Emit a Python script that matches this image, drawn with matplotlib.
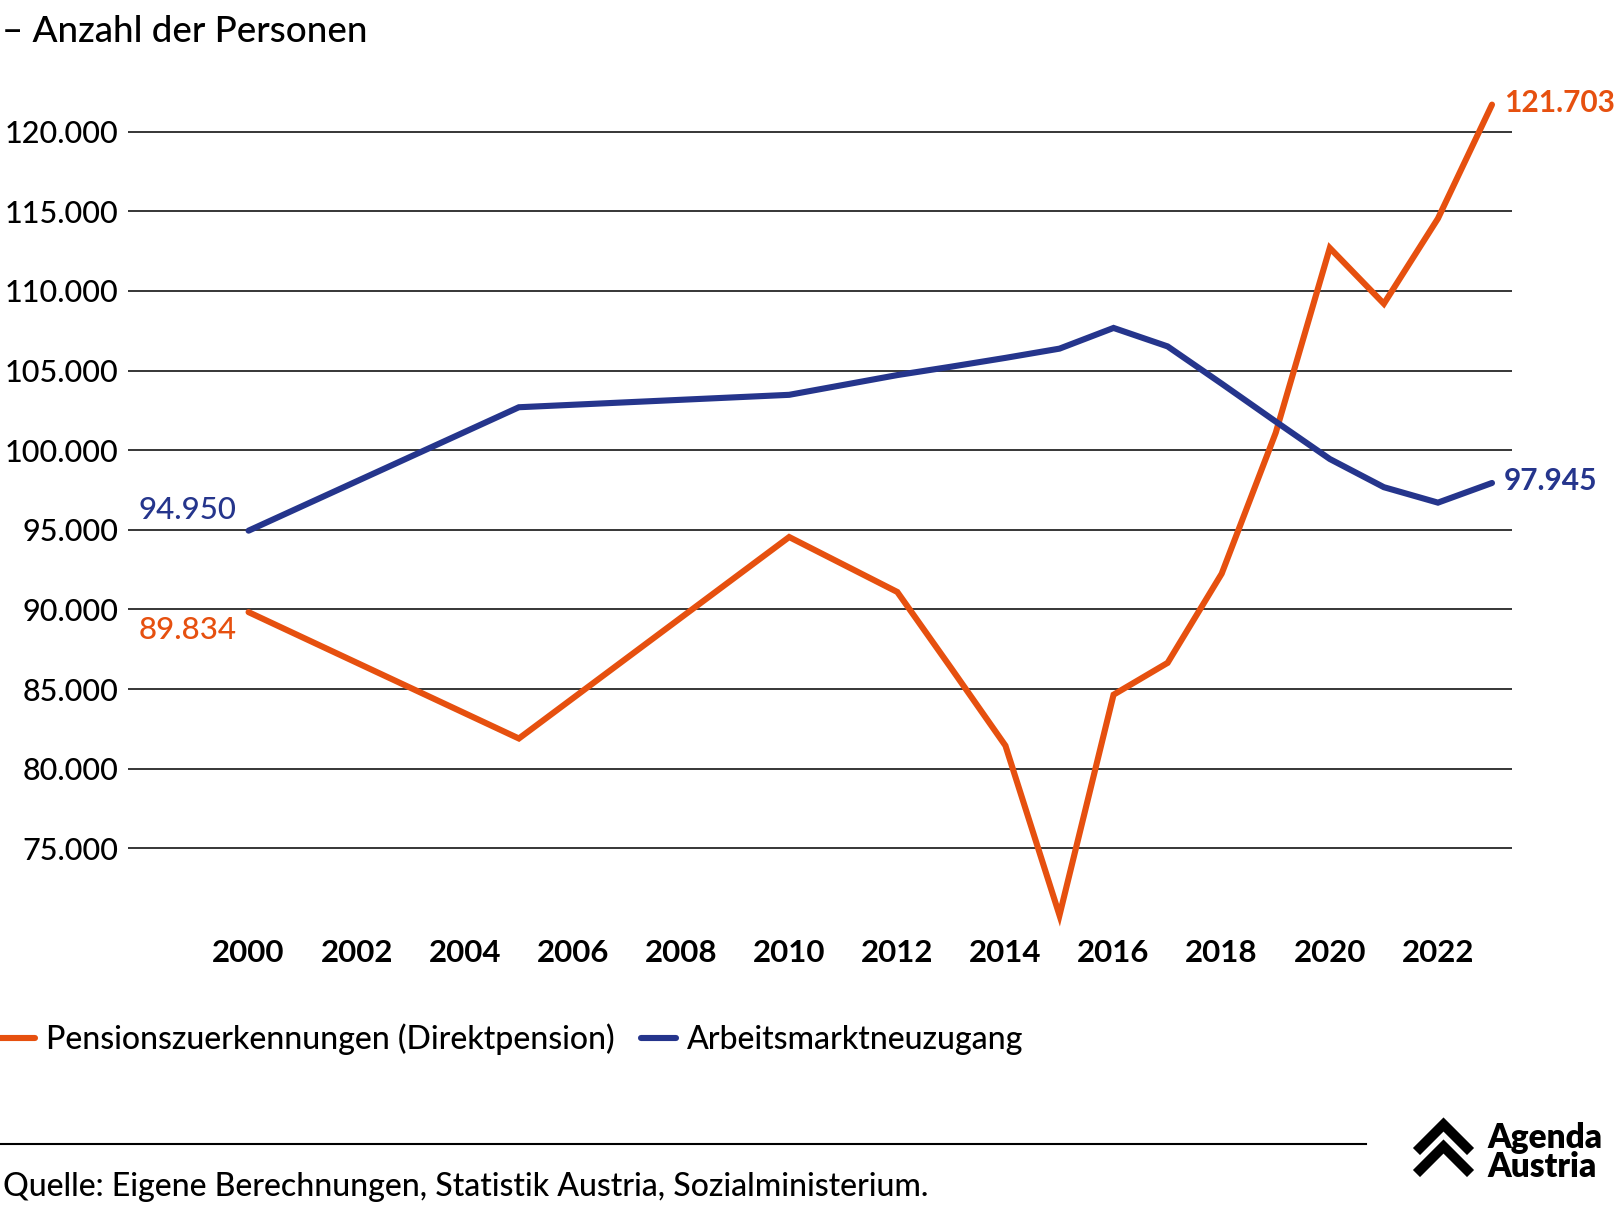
import matplotlib
matplotlib.use('Agg')
import matplotlib.pyplot as plt
from matplotlib.lines import Line2D
from matplotlib.ticker import FuncFormatter

plt.rcParams['font.family'] = ['Lato', 'DejaVu Sans']

years = [2000, 2005, 2010, 2012, 2013, 2014, 2015, 2016, 2017, 2018,
         2019, 2020, 2021, 2022, 2023]
pension = [89834, 81900, 94550, 91100, 86300, 81450, 70800, 84650, 86650,
           92250, 101100, 112700, 109200, 114550, 121703]
labour = [94950, 102700, 103480, 104720, 105250, 105800, 106380, 107680,
          106520, 104180, 101800, 99450, 97680, 96710, 97945]
xticks = list(range(2000, 2023, 2))
yticks = list(range(75000, 120001, 5000))

series_names = ['Pensionszuerkennungen (Direktpension)', 'Arbeitsmarktneuzugang']
ORANGE = '#E6500F'
BLUE = '#25358C'


def thousands(v, pos):
    return '{:,.0f}'.format(v).replace(',', '.')


W, H = 1616, 1212
fig = plt.figure(figsize=(W / 100, H / 100), dpi=100)
ax = fig.add_axes([128 / W, 1 - 928 / H, (1512 - 128) / W, (928 - 76) / H])

ax.plot(years, pension, color=ORANGE, lw=4.4, solid_capstyle='round',
        solid_joinstyle='miter', label=series_names[0], zorder=3)
ax.plot(years, labour, color=BLUE, lw=4.4, solid_capstyle='round',
        solid_joinstyle='miter', label=series_names[1], zorder=3)

ax.set_xlim(1997.77, 2023.37)
ax.set_ylim(70000, 123500)
ax.set_yticks(yticks)
ax.set_xticks(xticks)
ax.yaxis.set_major_formatter(FuncFormatter(thousands))
ax.grid(axis='y', color='black', lw=1.1, zorder=1)
ax.tick_params(axis='y', length=0, pad=7, labelsize=22)
ax.tick_params(axis='x', length=0, pad=8, labelsize=22.5)
for lbl in ax.get_yticklabels():
    lbl.set_fontweight(500)
for lbl in ax.get_xticklabels():
    lbl.set_fontweight('bold')
for s in ax.spines.values():
    s.set_visible(False)

# end labels
ax.annotate(thousands(labour[0], 0), (years[0], labour[0]), xytext=(-12, 21),
            textcoords='offset pixels', ha='right', va='center',
            color=BLUE, fontsize=22.5, fontweight=500)
ax.annotate(thousands(pension[0], 0), (years[0], pension[0]), xytext=(-12, -18),
            textcoords='offset pixels', ha='right', va='center',
            color=ORANGE, fontsize=22.5, fontweight=500)
ax.annotate(thousands(pension[-1], 0), (years[-1], pension[-1]), xytext=(12, 2),
            textcoords='offset pixels', ha='left', va='center',
            color=ORANGE, fontsize=21.5, fontweight='bold')
ax.annotate(thousands(labour[-1], 0), (years[-1], labour[-1]), xytext=(12, 2),
            textcoords='offset pixels', ha='left', va='center',
            color=BLUE, fontsize=21.5, fontweight='bold')

fig.text(2 / W, 1 - 32 / H, '– Anzahl der Personen', fontsize=26.5,
         fontweight=500, va='center', ha='left')

leg = fig.legend(loc='center left', bbox_to_anchor=(0, 1 - 1039 / H), ncol=2,
                 frameon=False, fontsize=23, handlelength=1.1, handletextpad=0.35,
                 columnspacing=0.8, borderaxespad=0, borderpad=0)
for t in leg.get_texts():
    t.set_fontweight(500)

# footer
fig.add_artist(Line2D([0, 1366 / W], [1 - 1144 / H] * 2, color='black', lw=1.5))
fig.text(3 / W, 1 - 1187 / H,
         'Quelle: Eigene Berechnungen, Statistik Austria, Sozialministerium.',
         fontsize=23, fontweight=500, va='center', ha='left')

# logo
for dy in (0, 22):
    fig.add_artist(Line2D([1420 / W, 1443.5 / W, 1467 / W],
                          [1 - (1148 + dy) / H, 1 - (1124.5 + dy) / H,
                           1 - (1148 + dy) / H],
                          color='black', lw=7.2, solid_joinstyle='miter'))
fig.text(1487 / W, 1 - 1148 / H, 'Agenda', fontsize=24, fontweight='heavy',
         va='baseline', ha='left')
fig.text(1487 / W, 1 - 1177 / H, 'Austria', fontsize=24, fontweight='heavy',
         va='baseline', ha='left')

fig.savefig('out.png', dpi=100)
